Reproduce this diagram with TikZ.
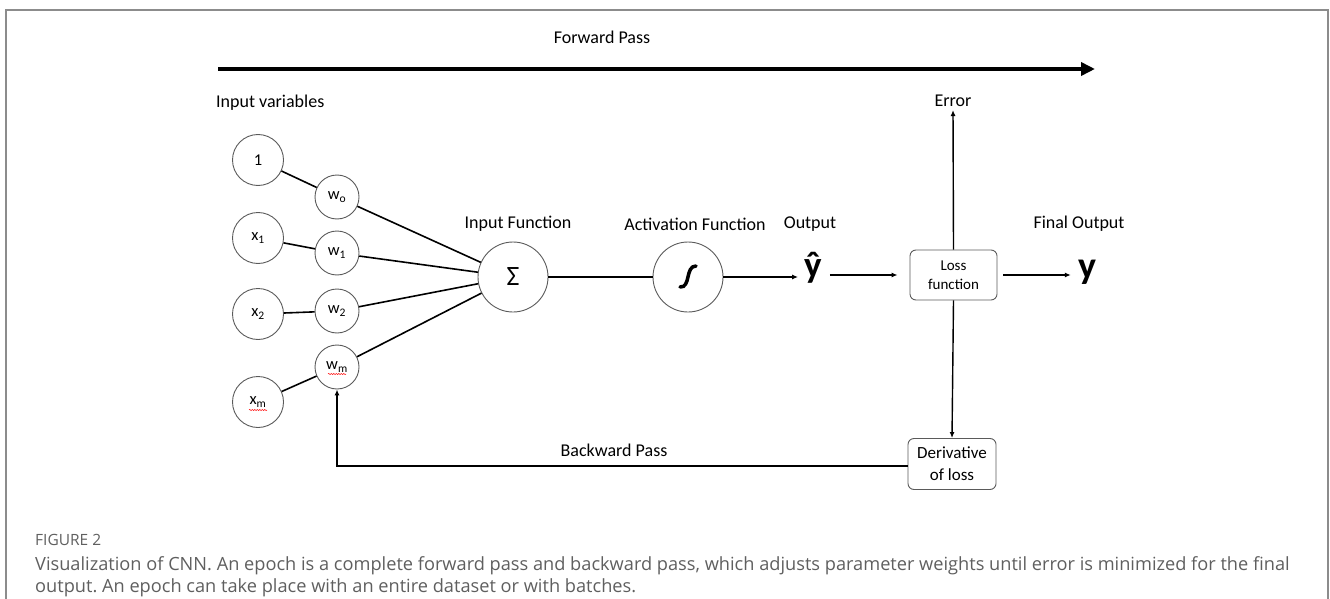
\documentclass[tikz,border=0pt]{standalone}
\usepackage{fontspec}
\setmainfont{Carlito}
\newfontfamily\capfont{Open Sans}
\usetikzlibrary{arrows.meta,decorations.pathmorphing}
\definecolor{framegray}{RGB}{140,140,140}
\definecolor{capgray}{RGB}{95,95,95}
\definecolor{circgray}{RGB}{90,90,90}
\frenchspacing
\begin{document}
\begin{tikzpicture}[x=1pt,y=-1pt,
 lbl/.style={font=\fontsize{18}{21}\selectfont, inner sep=0pt},
 inp/.style={circle, draw=circgray, line width=0.9pt, minimum size=51pt, inner sep=0pt, font=\fontsize{16.5}{19}\selectfont},
 wt/.style={circle, draw=circgray, line width=0.9pt, minimum size=44pt, inner sep=0pt, font=\fontsize{16.5}{19}\selectfont},
 big/.style={circle, draw=circgray, line width=0.9pt, minimum size=70pt, inner sep=0pt},
 conn/.style={line width=1.6pt},
 arr/.style={line width=1.4pt, -{Latex[length=6pt,width=5pt]}},
 box/.style={draw=circgray, line width=0.9pt, rounded corners=6pt, align=center, inner sep=0pt},
 squig/.style={red, line width=0.5pt, decorate, decoration={snake, amplitude=0.6pt, segment length=2.5pt}},
 captxt/.style={anchor=west, inner sep=0pt, text=capgray, font=\capfont\fontsize{18.2}{20}\selectfont},
]
\useasboundingbox (0,0) rectangle (1330,599);
\draw[framegray, line width=1.6pt] (6,620) -- (6,10) -- (1328,10) -- (1328,620);

% forward pass
\node[lbl] (fp) at (602,37) {Forward Pass};
\coordinate (fs) at (218,69);
\coordinate (fe) at (1095,69);
\draw[line width=4.5pt, -{Triangle[length=14pt,width=13pt]}] (fs) -- (fe);
\node[lbl, anchor=west] (iv) at (216,103) {Input variables};

% inputs
\node[inp] (c1) at (258,160) {1};
\node[inp] (x1) at (258,238) {x\textsubscript{1}};
\node[inp] (x2) at (258,314) {x\textsubscript{2}};
\node[inp] (xm) at (258,402) {x\textsubscript{m}};
\node[wt] (w0) at (337,197) {w\textsubscript{o}};
\node[wt] (w1) at (337,253) {w\textsubscript{1}};
\node[wt] (w2) at (337,311) {w\textsubscript{2}};
\node[wt] (wm) at (337,367) {w\textsubscript{m}};
\draw[squig] ([xshift=-9pt,yshift=-7pt]wm.center) -- ([xshift=9pt,yshift=-7pt]wm.center);
\draw[squig] ([xshift=-9pt,yshift=-8pt]xm.center) -- ([xshift=9pt,yshift=-8pt]xm.center);

% sums
\node[big, font=\fontsize{28}{32}\selectfont] (sig) at (513,277) {Σ};
\node[big] (act) at (688,277) {};
\draw[line width=3.5pt, line cap=round] ([xshift=-8pt,yshift=-10pt]act.center) .. controls ([xshift=3pt,yshift=-11pt]act.center) and ([xshift=-3pt,yshift=11pt]act.center) .. ([xshift=8pt,yshift=11pt]act.center);

\foreach \a/\b in {c1/w0, x1/w1, x2/w2, xm/wm} \draw[conn] (\a) -- (\b);
\foreach \a in {w0, w1, w2, wm} \draw[conn] (\a) -- (sig);
\draw[conn] (sig) -- (act);

\node[lbl] (lin) at (518,224) {Input Function};
\node[lbl] (lact) at (695,224) {Activation Function};
\node[lbl] (lout) at (810,224) {Output};
\node[lbl] (lfin) at (1079,224) {Final Output};

\node[font=\fontsize{37}{37}\selectfont\bfseries, inner sep=0pt] (yhat) at (813,268) {ŷ};
\node[box, minimum width=87pt, minimum height=50pt, font=\fontsize{15}{19}\selectfont] (loss) at (953.5,275) {Loss\\function};
\node[font=\fontsize{38}{38}\selectfont\bfseries, inner sep=0pt] (yout) at (1087,272) {y};
\node[lbl] (err) at (953,101) {Error};
\node[box, minimum width=88pt, minimum height=51pt, font=\fontsize{17}{22}\selectfont] (der) at (952,464) {Derivative\\of loss};
\node[lbl] (bp) at (614,450) {Backward Pass};

\draw[arr] (act.east) -- ([xshift=-6pt]act.east -| yhat.west);
\draw[arr, shorten >=12pt, shorten <=8pt] (yhat.east |- loss.west) -- (loss.west);
\draw[arr, shorten <=6pt, shorten >=7pt] (loss.east) -- (loss.east -| yout.west);
\draw[arr] (loss.north) -- ([yshift=-3pt]err.south);
\draw[arr] (loss.south) -- (der.north);
\draw[arr] ([yshift=-2pt]der.west) -| (wm.south);

% caption
\node[captxt, font=\capfont\fontsize{15.5}{17}\selectfont] (fig) at (35,540) {FIGURE 2};
\node[captxt] (cap1) at (35,566) {Visualization of CNN. An epoch is a complete forward pass and backward pass, which adjusts parameter weights until error is minimized for the final};
\node[captxt] (cap2) at (35,588) {output. An epoch can take place with an entire dataset or with batches.};
\end{tikzpicture}
\end{document}
